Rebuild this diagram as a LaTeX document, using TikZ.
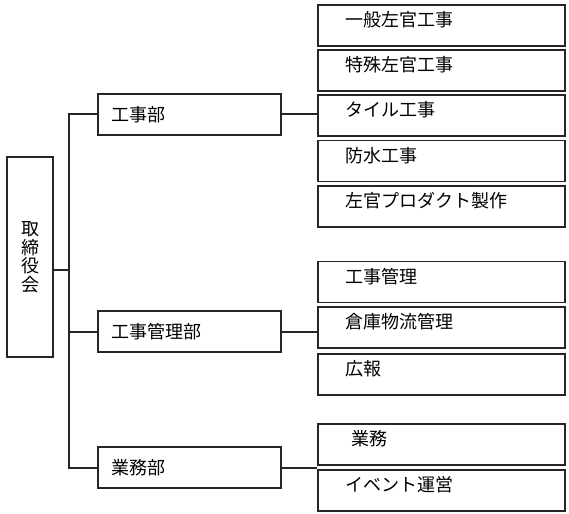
\documentclass[tikz,border=0pt]{standalone}
\usepackage{fontspec}
\setmainfont{Noto Sans CJK JP}
\usetikzlibrary{positioning}

\begin{document}
\begin{tikzpicture}[x=1pt, y=-1pt,
  every node/.style={font=\fontsize{18}{18.5}\selectfont, draw=black!85, line width=1.1pt},
  dept/.style={minimum height=41pt, inner xsep=13pt, text width=157pt, align=left},
  sect/.style={minimum height=41pt, inner xsep=27pt, text width=193pt, align=left, text height=16pt, text depth=14pt},
  link/.style={line width=2pt, black!85}]
  \useasboundingbox (0,0) rectangle (569,513);

  \node[minimum width=46pt, minimum height=200pt, inner sep=0pt, align=center] (board) at (30,257) {取\\締\\役\\会};

  \node[dept] (koji) at (189.5,114.5) {工事部};
  \node[dept] (kanri) at (189.5,331.5) {工事管理部};
  \node[dept] (gyomu) at (189.5,467.5) {業務部};

  % 工事部の下
  \node[sect] (k1) at (441.5,25.5)  {一般左官工事};
  \node[sect] (k2) at (441.5,70.5)  {特殊左官工事};
  \node[sect] (k3) at (441.5,115.5) {タイル工事};
  \node[sect] (k4) at (441.5,161)   {防水工事};
  \node[sect] (k5) at (441.5,206.5) {左官プロダクト製作};

  % 工事管理部の下
  \node[sect] (m1) at (441.5,282)   {工事管理};
  \node[sect] (m2) at (441.5,327.5) {倉庫物流管理};
  \node[sect] (m3) at (441.5,374.5) {広報};

  % 業務部の下
  \node[sect] (g1) at (441.5,444.5) {\hspace{6pt}業務};
  \node[sect] (g2) at (441.5,490.5) {イベント運営};

  \coordinate (trunk) at (69,270);
  \draw[link] (board.east |- trunk) -- (trunk);
  \draw[link] (koji.west) -- (koji.west -| trunk) -- (gyomu.west -| trunk) -- (gyomu.west);
  \draw[link] (kanri.west) -- (kanri.west -| trunk);

  \draw[link] (koji.east) -- (koji.east -| k3.west);
  \draw[link] (kanri.east) -- (kanri.east -| m2.west);
  \draw[link] (gyomu.east) -- (gyomu.east -| g1.west);
\end{tikzpicture}
\end{document}
